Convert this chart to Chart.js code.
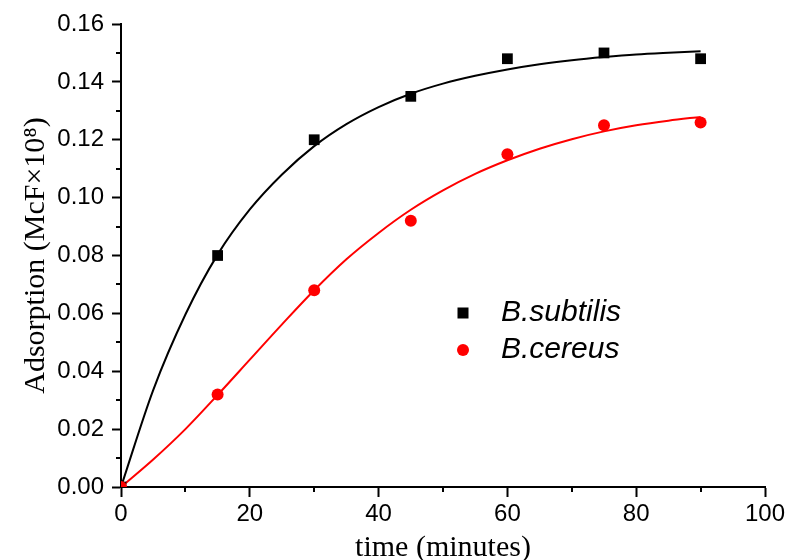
<!DOCTYPE html>
<html>
<head>
<meta charset="utf-8">
<script src="https://cdn.jsdelivr.net/npm/chart.js@4/dist/chart.umd.min.js"></script>
<style>
  body { margin: 0; background: #fff; }
  #wrap { width: 787px; height: 560px; }
</style>
</head>
<body>
<div id="wrap"><canvas id="chart" width="787" height="560"></canvas></div>
<script>
// measured points
const times = [0, 15, 30, 45, 60, 75, 90];
const subtilis = [0, 0.080, 0.120, 0.135, 0.148, 0.150, 0.148];
const cereus = [0, 0.032, 0.068, 0.092, 0.115, 0.125, 0.126];

// fitted curves, every 5 minutes
const fitTimes = [0, 5, 10, 15, 20, 25, 30, 35, 40, 45, 50, 55, 60, 65, 70, 75, 80, 85, 90];
const subtilisFit = [0, 0.0335, 0.0596, 0.0803, 0.0959, 0.1080, 0.1178, 0.1254, 0.1313, 0.1359, 0.1394, 0.1421, 0.1443, 0.1461, 0.1475, 0.1486, 0.1495, 0.1501, 0.1506];
const cereusFit = [0, 0.0095, 0.0200, 0.0318, 0.0440, 0.0562, 0.0680, 0.0787, 0.0878, 0.0958, 0.1025, 0.1082, 0.1129, 0.1169, 0.1202, 0.1229, 0.1250, 0.1266, 0.1279];

const xTicks = [0, 20, 40, 60, 80, 100];
const yTicks = [0, 0.02, 0.04, 0.06, 0.08, 0.10, 0.12, 0.14, 0.16];

function toXY(xs, ys) {
  return xs.map((x, i) => ({ x: x, y: ys[i] }));
}

const minorTicks = {
  id: "minorTicks",
  afterDraw(chart) {
    const ctx = chart.ctx;
    const xs = chart.scales.x;
    const ys = chart.scales.y;
    const a = chart.chartArea;
    ctx.save();
    ctx.strokeStyle = "#000";
    ctx.lineWidth = 2;
    ctx.beginPath();
    for (let i = 0; i < xTicks.length - 1; i++) {
      const px = Math.round(xs.getPixelForValue((xTicks[i] + xTicks[i + 1]) / 2));
      ctx.moveTo(px, a.bottom);
      ctx.lineTo(px, a.bottom + 5);
    }
    for (let i = 0; i < yTicks.length - 1; i++) {
      const py = Math.round(ys.getPixelForValue((yTicks[i] + yTicks[i + 1]) / 2));
      ctx.moveTo(a.left, py);
      ctx.lineTo(a.left - 5, py);
    }
    ctx.stroke();
    ctx.restore();
  },
};

const sideLegend = {
  id: "sideLegend",
  afterDraw(chart) {
    const ctx = chart.ctx;
    const items = chart.data.datasets.filter((d) => d.showLine === false);
    ctx.save();
    ctx.font = "italic 30px 'Liberation Sans', Arial, sans-serif";
    ctx.textBaseline = "middle";
    items.forEach((d, i) => {
      const cx = 463;
      const cy = 313 + i * 37;
      ctx.fillStyle = d.backgroundColor;
      if (d.pointStyle === "rect") {
        ctx.fillRect(cx - 5.5, cy - 5.5, 11, 11);
      } else {
        ctx.beginPath();
        ctx.arc(cx, cy, 6, 0, Math.PI * 2);
        ctx.fill();
      }
      ctx.fillStyle = "#000";
      ctx.fillText(d.label, 501, cy);
    });
    ctx.restore();
  },
};

new Chart(document.querySelector("#chart").getContext("2d"), {
  type: "scatter",
  data: {
    datasets: [
      {
        label: "B.subtilis fit",
        data: toXY(fitTimes, subtilisFit),
        showLine: true,
        borderColor: "#000",
        borderWidth: 2,
        pointRadius: 0,
        cubicInterpolationMode: "monotone",
        order: 3,
      },
      {
        label: "B.cereus fit",
        data: toXY(fitTimes, cereusFit),
        showLine: true,
        borderColor: "#ff0000",
        borderWidth: 2,
        pointRadius: 0,
        cubicInterpolationMode: "monotone",
        order: 2,
      },
      {
        label: "B.subtilis",
        data: toXY(times, subtilis),
        showLine: false,
        pointStyle: "rect",
        pointRadius: 7.6,
        backgroundColor: "#000",
        borderWidth: 0,
        order: 1,
      },
      {
        label: "B.cereus",
        data: toXY(times, cereus),
        showLine: false,
        pointStyle: "circle",
        pointRadius: 6,
        backgroundColor: "#ff0000",
        borderWidth: 0,
        order: 0,
      },
    ],
  },
  options: {
    responsive: false,
    animation: false,
    layout: { padding: { top: 24, right: 22, left: 0, bottom: 0 } },
    plugins: { legend: { display: false }, tooltip: { enabled: false } },
    scales: {
      x: {
        type: "linear",
        min: 0,
        max: 100,
        afterBuildTicks: (s) => { s.ticks = xTicks.map((v) => ({ value: v })); },
        afterFit: (s) => { s.height = 73; s.paddingLeft = 0; s.paddingRight = 0; },
        border: { display: true, color: "#000", width: 2 },
        grid: { drawOnChartArea: false, drawTicks: true, tickLength: 10, tickWidth: 2, tickColor: "#000" },
        ticks: {
          padding: 3,
          color: "#000",
          font: { family: "'Liberation Sans', Arial, sans-serif", size: 24 },
          maxRotation: 0,
        },
        title: {
          display: true,
          text: "time (minutes)",
          color: "#000",
          font: { family: "'Liberation Serif', 'Times New Roman', serif", size: 30 },
          padding: { top: 0, bottom: -6 },
        },
      },
      y: {
        min: 0,
        max: 0.16,
        afterBuildTicks: (s) => { s.ticks = yTicks.map((v) => ({ value: v })); },
        afterFit: (s) => { s.width = 121; s.paddingTop = 0; s.paddingBottom = 0; },
        border: { display: true, color: "#000", width: 2 },
        grid: { drawOnChartArea: false, drawTicks: true, tickLength: 9, tickWidth: 2, tickColor: "#000" },
        ticks: {
          padding: 8,
          color: "#000",
          font: { family: "'Liberation Sans', Arial, sans-serif", size: 24 },
          callback: (v) => v.toFixed(2),
        },
        title: {
          display: true,
          text: "Adsorption (McF×10⁸)",
          color: "#000",
          font: { family: "'Liberation Serif', 'Times New Roman', serif", size: 30 },
          padding: { top: 18, bottom: 0 },
        },
      },
    },
  },
  plugins: [minorTicks, sideLegend],
});
</script>
</body>
</html>
